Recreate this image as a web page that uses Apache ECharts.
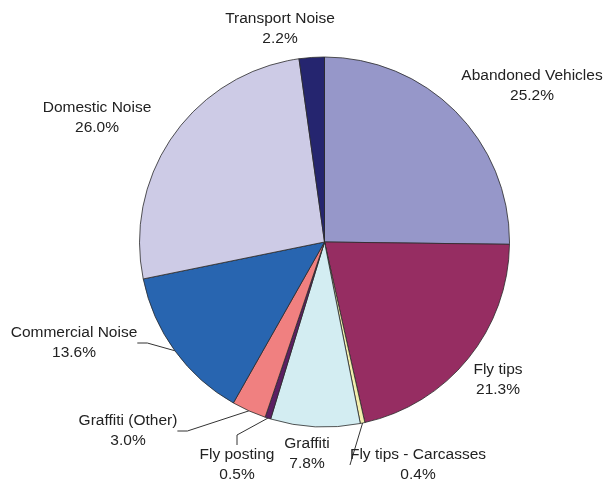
<!DOCTYPE html>
<html>
<head>
<meta charset="utf-8">
<script src="https://cdn.jsdelivr.net/npm/echarts@6/dist/echarts.min.js"></script>
<style>
  html, body { margin: 0; padding: 0; background: #fff; }
  #chart { width: 604px; height: 481px; }
</style>
</head>
<body>
<div id="chart"></div>
<script>
// complaint categories, clockwise from 12 o'clock
const categories = ['Abandoned Vehicles', 'Fly tips', 'Fly tips - Carcasses', 'Graffiti',
  'Fly posting', 'Graffiti (Other)', 'Commercial Noise', 'Domestic Noise', 'Transport Noise'];
const shares = [25.2, 21.3, 0.4, 7.8, 0.5, 3.0, 13.6, 26.0, 2.2];
const colors = ['#9697c9', '#962d62', '#f3eeae', '#d3edf2', '#5b1f63', '#f08080', '#2865b0', '#cdcbe6', '#25256f'];
const withLine = [false, false, true, false, true, true, true, false, false];

// label centres (layout only)
const labelPos = [[532, 86], [498, 380], [418, 465], [307, 454], [237, 465], [128, 431], [74, 343], [97, 118], [280, 29]];

const myChart = echarts.init(document.getElementById('chart'));
const option = {
  animation: false,
  series: [{
    type: 'pie',
    center: [324.5, 242],
    radius: 185,
    startAngle: 90,
    clockwise: true,
    itemStyle: { borderColor: '#2a2a2a', borderWidth: 0.8 },
    label: {
      show: true,
      position: 'outside',
      formatter: p => p.name + '\n' + p.value.toFixed(1) + '%',
      fontFamily: 'Liberation Sans, Arial, sans-serif',
      fontSize: 15.5,
      lineHeight: 20,
      color: '#222',
      align: 'center',
      verticalAlign: 'middle',
      overflow: 'none'
    },
    labelLine: { lineStyle: { color: '#333', width: 1 }, length: 10, length2: 10 },
    labelLayout: params => {
      const p = labelPos[params.dataIndex];
      return { x: p[0], y: p[1], align: 'center', verticalAlign: 'middle' };
    },
    data: categories.map((name, i) => ({
      name: name,
      value: shares[i],
      itemStyle: { color: colors[i] },
      labelLine: { show: withLine[i] }
    }))
  }]
};
myChart.setOption(option);
</script>
</body>
</html>
